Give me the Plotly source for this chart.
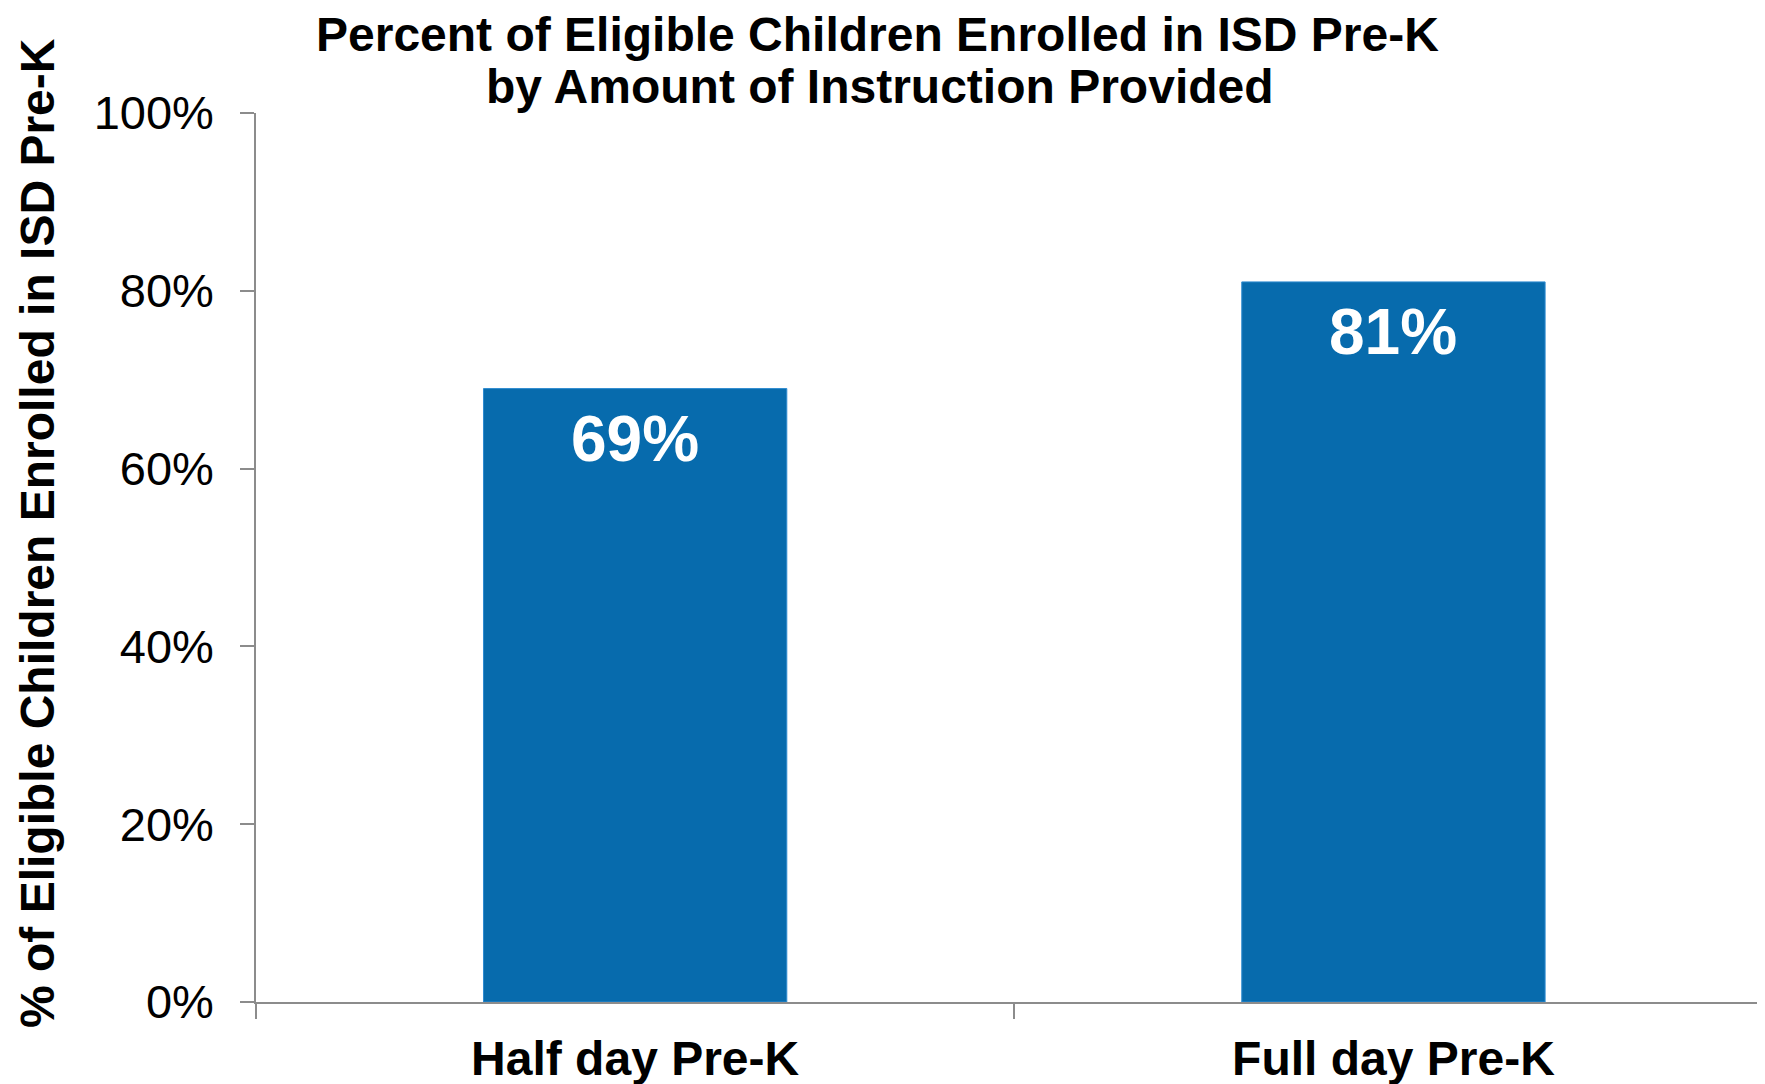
import plotly.graph_objects as go

categories = ["Half day Pre-K", "Full day Pre-K"]
values = [0.69, 0.81]
value_labels = ["69%", "81%"]
title_lines = ["Percent of Eligible Children Enrolled in ISD Pre-K",
               "by Amount of Instruction Provided"]
y_title = "% of Eligible Children Enrolled in ISD Pre-K"
y_ticks = [0, 0.2, 0.4, 0.6, 0.8, 1.0]

FONT = "Arial, Liberation Sans, sans-serif"
BAR = "#076BAD"
AXIS = "#8C8C8C"

# page has an 8px body margin; figure coordinates are page - 8
W, H = 1757, 1076
L, R, T, B = 248, 0, 105, 82
PH = H - T - B  # plot height


def py(page_y):
    """paper y from page pixel y"""
    return ((H - B) - (page_y - 8)) / PH


def px(page_x):
    return ((page_x - 8) - L) / (W - L - R)


fig = go.Figure()
fig.add_trace(go.Bar(
    x=categories, y=values,
    marker=dict(color=BAR, line=dict(color="#2E8BD0", width=1)),
    width=0.4,
    hoverinfo="skip",
))

for cat, val, lab in zip(categories, values, value_labels):
    fig.add_annotation(x=cat, y=val, text=f"<b>{lab}</b>", showarrow=False,
                       xanchor="center", yanchor="middle", yshift=-50,
                       font=dict(family=FONT, size=64, color="white"))

fig.update_layout(
    width=W, height=H,
    margin=dict(l=L, r=R, t=T, b=B, autoexpand=False),
    paper_bgcolor="white", plot_bgcolor="white",
    showlegend=False,
    font=dict(family=FONT, color="black"),
    xaxis=dict(
        type="category", range=[-0.5, 1.49],
        showline=True, linecolor=AXIS, linewidth=1.5,
        ticks="outside", tickson="boundaries", ticklen=15,
        tickcolor=AXIS, tickwidth=1.5,
        showgrid=False, zeroline=False,
        tickfont=dict(family=FONT, size=48, color="black", weight="bold"),
        ticklabelstandoff=14,
    ),
    yaxis=dict(
        range=[0, 1], tickvals=y_ticks, tickformat=".0%",
        showline=True, linecolor=AXIS, linewidth=1.5,
        ticks="outside", ticklen=14, tickcolor=AXIS, tickwidth=1.5,
        showgrid=False, zeroline=False,
        tickfont=dict(family=FONT, size=47, color="black"),
        ticklabelstandoff=17,
    ),
)

fig.add_annotation(text=f"<b>{title_lines[0]}</b>", xref="paper", yref="paper",
                   x=px(877), y=py(34), xanchor="center", yanchor="middle",
                   showarrow=False, font=dict(family=FONT, size=48, color="black"))
fig.add_annotation(text=f"<b>{title_lines[1]}</b>", xref="paper", yref="paper",
                   x=px(880), y=py(87), xanchor="center", yanchor="middle",
                   showarrow=False, font=dict(family=FONT, size=48, color="black"))
fig.add_annotation(text=f"<b>{y_title}</b>", xref="paper", yref="paper",
                   x=px(37), y=py(533), xanchor="center", yanchor="middle",
                   textangle=-90, showarrow=False,
                   font=dict(family=FONT, size=48, color="black"))

fig.write_html("out.html")
